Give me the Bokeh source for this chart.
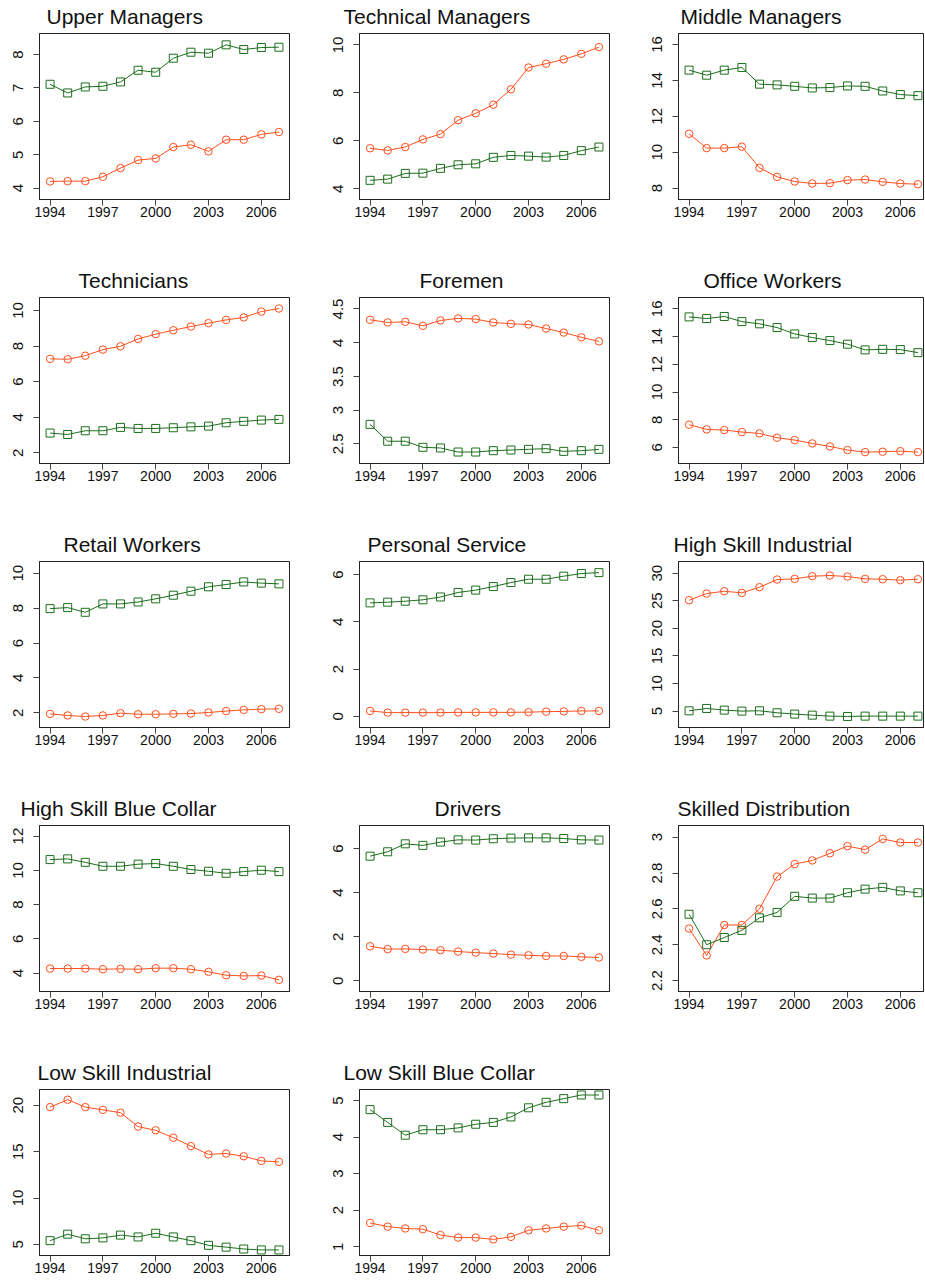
from bokeh.plotting import figure
from bokeh.layouts import gridplot
from bokeh.models import FixedTicker, Range1d, CustomJSTickFormatter
from bokeh.embed import file_html
from bokeh.resources import INLINE

# ---------------- data ----------------
years = [1994, 1995, 1996, 1997, 1998, 1999, 2000, 2001, 2002, 2003, 2004, 2005, 2006, 2007]
year_ticks = [1994, 1997, 2000, 2003, 2006]

titles = ["Upper Managers", "Technical Managers", "Middle Managers",
          "Technicians", "Foremen", "Office Workers",
          "Retail Workers", "Personal Service", "High Skill Industrial",
          "High Skill Blue Collar", "Drivers", "Skilled Distribution",
          "Low Skill Industrial", "Low Skill Blue Collar"]

upper_managers_men = [4.20, 4.21, 4.21, 4.34, 4.60, 4.84, 4.89, 5.23, 5.30, 5.10, 5.45, 5.45, 5.61, 5.68]
upper_managers_women = [7.11, 6.85, 7.03, 7.05, 7.18, 7.53, 7.47, 7.89, 8.07, 8.04, 8.29, 8.15, 8.21, 8.22]
technical_managers_men = [5.69, 5.60, 5.74, 6.06, 6.28, 6.86, 7.15, 7.51, 8.15, 9.06, 9.22, 9.40, 9.63, 9.91]
technical_managers_women = [4.35, 4.40, 4.64, 4.65, 4.85, 5.00, 5.04, 5.31, 5.39, 5.36, 5.32, 5.39, 5.59, 5.74]
middle_managers_men = [11.03, 10.23, 10.23, 10.31, 9.13, 8.63, 8.37, 8.26, 8.28, 8.45, 8.48, 8.35, 8.26, 8.22]
middle_managers_women = [14.57, 14.29, 14.57, 14.72, 13.79, 13.75, 13.67, 13.58, 13.60, 13.69, 13.67, 13.41, 13.21, 13.15]
technicians_men = [7.28, 7.26, 7.46, 7.80, 7.99, 8.40, 8.67, 8.89, 9.10, 9.29, 9.47, 9.61, 9.94, 10.11]
technicians_women = [3.11, 3.03, 3.24, 3.24, 3.43, 3.37, 3.37, 3.41, 3.46, 3.50, 3.69, 3.77, 3.84, 3.88]
foremen_men = [4.34, 4.30, 4.31, 4.25, 4.33, 4.36, 4.35, 4.30, 4.28, 4.27, 4.21, 4.15, 4.08, 4.02]
foremen_women = [2.79, 2.54, 2.54, 2.45, 2.44, 2.38, 2.38, 2.40, 2.41, 2.42, 2.43, 2.39, 2.40, 2.42]
office_workers_men = [7.64, 7.30, 7.25, 7.11, 7.01, 6.70, 6.53, 6.29, 6.07, 5.81, 5.66, 5.69, 5.73, 5.66]
office_workers_women = [15.42, 15.30, 15.45, 15.08, 14.92, 14.65, 14.19, 13.93, 13.71, 13.45, 13.04, 13.08, 13.06, 12.84]
retail_workers_men = [1.94, 1.85, 1.79, 1.85, 1.98, 1.92, 1.92, 1.94, 1.96, 2.02, 2.10, 2.17, 2.21, 2.23]
retail_workers_women = [7.97, 8.03, 7.76, 8.24, 8.24, 8.35, 8.53, 8.74, 8.97, 9.22, 9.35, 9.50, 9.43, 9.39]
personal_service_men = [0.23, 0.16, 0.16, 0.16, 0.16, 0.17, 0.17, 0.17, 0.17, 0.18, 0.20, 0.21, 0.23, 0.23]
personal_service_women = [4.80, 4.83, 4.87, 4.93, 5.05, 5.24, 5.34, 5.49, 5.66, 5.80, 5.80, 5.93, 6.04, 6.08]
hs_industrial_men = [25.10, 26.31, 26.73, 26.43, 27.46, 28.85, 28.97, 29.46, 29.58, 29.39, 28.97, 28.91, 28.73, 28.91]
hs_industrial_women = [5.06, 5.48, 5.18, 5.00, 5.06, 4.70, 4.46, 4.27, 4.09, 4.03, 4.09, 4.09, 4.09, 4.09]
hs_blue_collar_men = [4.27, 4.27, 4.27, 4.23, 4.25, 4.23, 4.29, 4.29, 4.23, 4.08, 3.88, 3.84, 3.86, 3.61]
hs_blue_collar_women = [10.63, 10.67, 10.47, 10.24, 10.24, 10.36, 10.40, 10.24, 10.05, 9.95, 9.83, 9.93, 10.01, 9.93]
drivers_men = [1.57, 1.44, 1.45, 1.42, 1.39, 1.33, 1.28, 1.24, 1.19, 1.16, 1.13, 1.13, 1.09, 1.06]
drivers_women = [5.65, 5.85, 6.21, 6.14, 6.29, 6.39, 6.38, 6.44, 6.47, 6.48, 6.48, 6.45, 6.39, 6.38]
skilled_dist_men = [2.49, 2.34, 2.51, 2.51, 2.60, 2.78, 2.85, 2.87, 2.91, 2.95, 2.93, 2.99, 2.97, 2.97]
skilled_dist_women = [2.57, 2.40, 2.44, 2.48, 2.55, 2.58, 2.67, 2.66, 2.66, 2.69, 2.71, 2.72, 2.70, 2.69]
ls_industrial_men = [19.8, 20.6, 19.8, 19.5, 19.2, 17.7, 17.3, 16.5, 15.6, 14.7, 14.8, 14.5, 14.0, 13.9]
ls_industrial_women = [5.4, 6.1, 5.6, 5.7, 6.0, 5.8, 6.2, 5.8, 5.4, 4.9, 4.7, 4.5, 4.4, 4.4]
ls_blue_collar_men = [1.65, 1.55, 1.50, 1.48, 1.32, 1.25, 1.25, 1.20, 1.27, 1.45, 1.50, 1.55, 1.58, 1.45]
ls_blue_collar_women = [4.75, 4.40, 4.05, 4.20, 4.20, 4.25, 4.35, 4.40, 4.55, 4.80, 4.95, 5.05, 5.15, 5.15]

upper_managers_ticks = [4, 5, 6, 7, 8]
technical_managers_ticks = [4, 6, 8, 10]
middle_managers_ticks = [8, 10, 12, 14, 16]
technicians_ticks = [2, 4, 6, 8, 10]
foremen_ticks = [2.5, 3, 3.5, 4, 4.5]
office_workers_ticks = [6, 8, 10, 12, 14, 16]
retail_workers_ticks = [2, 4, 6, 8, 10]
personal_service_ticks = [0, 2, 4, 6]
hs_industrial_ticks = [5, 10, 15, 20, 25, 30]
hs_blue_collar_ticks = [4, 6, 8, 10, 12]
drivers_ticks = [0, 2, 4, 6]
skilled_dist_ticks = [2.2, 2.4, 2.6, 2.8, 3]
ls_industrial_ticks = [5, 10, 15, 20]
ls_blue_collar_ticks = [1, 2, 3, 4, 5]

men_series = [upper_managers_men, technical_managers_men, middle_managers_men,
              technicians_men, foremen_men, office_workers_men,
              retail_workers_men, personal_service_men, hs_industrial_men,
              hs_blue_collar_men, drivers_men, skilled_dist_men,
              ls_industrial_men, ls_blue_collar_men]
women_series = [upper_managers_women, technical_managers_women, middle_managers_women,
                technicians_women, foremen_women, office_workers_women,
                retail_workers_women, personal_service_women, hs_industrial_women,
                hs_blue_collar_women, drivers_women, skilled_dist_women,
                ls_industrial_women, ls_blue_collar_women]
tick_sets = [upper_managers_ticks, technical_managers_ticks, middle_managers_ticks,
             technicians_ticks, foremen_ticks, office_workers_ticks,
             retail_workers_ticks, personal_service_ticks, hs_industrial_ticks,
             hs_blue_collar_ticks, drivers_ticks, skilled_dist_ticks,
             ls_industrial_ticks, ls_blue_collar_ticks]

# ---------------- layout / style ----------------
y_limits = [(3.66, 8.63), (3.55, 10.48), (7.37, 16.61),
            (1.40, 10.73), (2.21, 4.67), (4.84, 16.82),
            (1.16, 10.67), (-0.47, 6.55), (2.03, 32.12),
            (2.93, 12.62), (-0.48, 7.04), (2.139, 3.065),
            (3.8, 21.7), (0.76, 5.3)]
title_offsets = [7, -16, 2, 39, 60, 25, 24, 8, -5, -19, 75, -1, -2, -16]

ORANGE = "#FF4F1C"
GREEN = "#1C6E1C"
FONT = "Liberation Sans"
X_START, PX_PER_YEAR = 1993.4, 250 / 14.2

def make_panel(i):
    row, col = divmod(i, 3)
    fw = 246 if col == 2 else 250
    left = 38 if col == 2 else 39
    right = 0 if col == 2 else 31
    bottom = 26 if row == 4 else 65
    p = figure(frame_width=fw, frame_height=166,
               min_border_left=left, min_border_right=right,
               min_border_top=33, min_border_bottom=bottom,
               x_range=Range1d(X_START, X_START + fw / PX_PER_YEAR),
               y_range=Range1d(*y_limits[i]),
               title=titles[i], tools="", toolbar_location=None,
               output_backend="svg")
    p.title.text_font = FONT
    p.title.text_font_size = "21px"
    p.title.text_font_style = "normal"
    p.title.text_color = "#111111"
    p.title.align = "left"
    p.title.offset = title_offsets[i]
    p.title.standoff = 7
    p.title.vertical_align = "top"

    p.line(years, men_series[i], line_color=ORANGE, line_width=1)
    p.scatter(years, men_series[i], marker="circle", size=7.5,
              line_color=ORANGE, fill_color=None, line_width=1)
    p.line(years, women_series[i], line_color=GREEN, line_width=1)
    p.scatter(years, women_series[i], marker="square", size=8,
              line_color=GREEN, fill_color=None, line_width=1)

    p.xaxis.ticker = FixedTicker(ticks=year_ticks)
    p.yaxis.ticker = FixedTicker(ticks=tick_sets[i])
    p.yaxis.formatter = CustomJSTickFormatter(code="return String(tick);")
    p.yaxis.major_label_orientation = "vertical"
    for ax in (p.xaxis, p.yaxis):
        ax.axis_line_color = "#222222"
        ax.major_tick_line_color = "#444444"
        ax.major_tick_out = 6
        ax.major_tick_in = 0
        ax.minor_tick_line_color = None
        ax.major_label_text_font = FONT
        ax.major_label_text_color = "#111111"
    p.xaxis.major_label_text_font_size = "14px"
    p.xaxis.major_label_standoff = 1
    p.yaxis.major_label_text_font_size = "15px"
    p.yaxis.major_label_standoff = 10
    p.xgrid.visible = False
    p.ygrid.visible = False
    p.outline_line_color = "#222222"
    p.outline_line_alpha = 1
    p.background_fill_color = "white"
    p.border_fill_color = "white"
    return p

panels = [make_panel(i) for i in range(len(titles))]
grid_rows = [panels[0:3], panels[3:6], panels[6:9], panels[9:12], panels[12:14] + [None]]
grid = gridplot(grid_rows, toolbar_location=None)

open("out.html", "w").write(file_html(grid, INLINE))
